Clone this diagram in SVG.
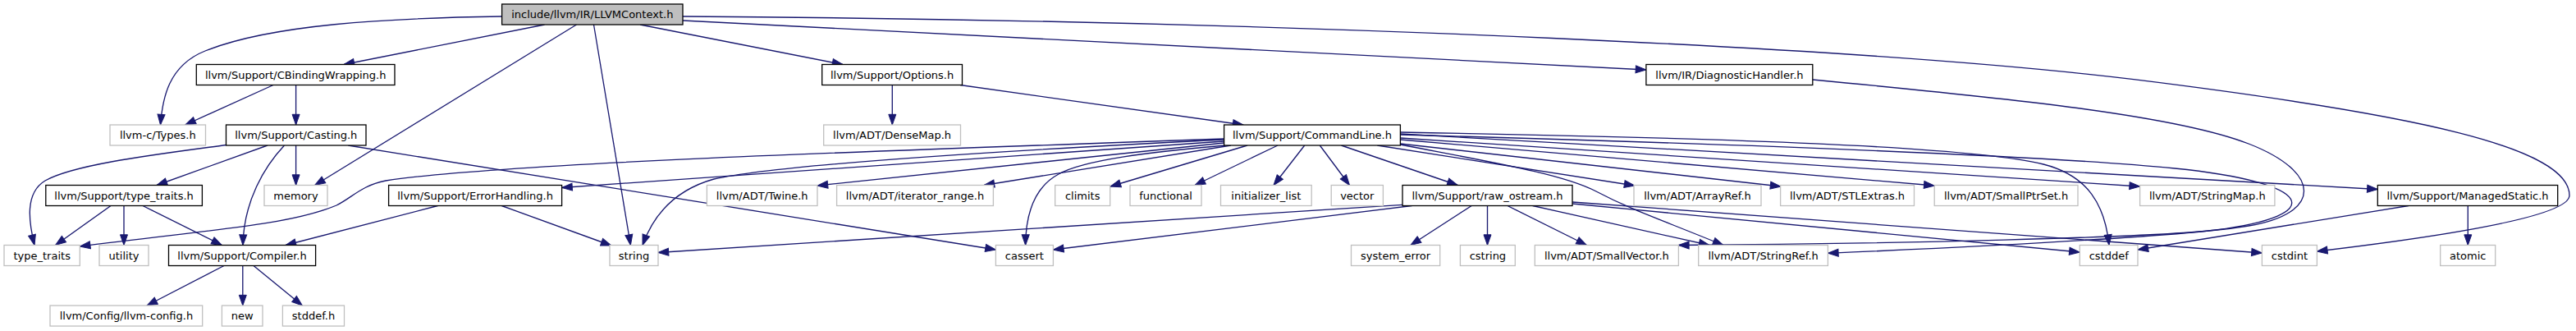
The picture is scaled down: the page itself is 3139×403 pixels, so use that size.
<svg xmlns="http://www.w3.org/2000/svg" width="3139" height="403" viewBox="0 0 3139 403">
<style>
rect{fill:#fff;stroke:#000;stroke-width:1.3}
.u rect{stroke:#bfbfbf}
.root rect{fill:#bfbfbf}
text{font-family:"DejaVu Sans","Liberation Sans",sans-serif;font-size:13px;text-anchor:middle;fill:#000}
#edges path{fill:none;stroke:#191970;stroke-width:1.33;marker-end:url(#a)}
</style>
<defs>
<marker id="a" markerUnits="userSpaceOnUse" markerWidth="14" markerHeight="10" refX="12.7" refY="4.5" orient="auto" overflow="visible">
<path d="M0,0 L12.7,4.5 L0,9 z" fill="#191970" stroke="#191970" stroke-width="1"/>
</marker>
</defs>
<rect x="0" y="0" width="3139" height="403" style="fill:#fff;stroke:none"/>
<g id="edges">
<path d="M611.6,20 C470,22 330,30 250,62 C205,80 198,120 195.5,152"/>
<path d="M663.6,30 L419,78.5"/>
<path d="M702.5,30 L383.6,225.5"/>
<path d="M723.5,30 L768.4,298.5"/>
<path d="M780,30 L1027,78.5"/>
<path d="M832,25 L2005.9,85"/>
<path d="M832,20 C1600,25 2300,60 2600,96.7 C2950,140 3131,180 3131,238 C3131,262 3000,285 2823.4,306"/>
<path d="M333,103.5 L225.8,152"/>
<path d="M360.6,103.5 L360.6,152"/>
<path d="M275.5,176.5 C190,188 90,200 55,220 C30,235 35,270 42,298.5"/>
<path d="M326,177 L191,225.5"/>
<path d="M346.5,177 C322,203 297,245 296,298.5"/>
<path d="M360.6,177 L360.6,225.5"/>
<path d="M424.2,177 L1213.4,304"/>
<path d="M135,250.5 L67.6,298.5"/>
<path d="M151,250.5 L151,298.5"/>
<path d="M174,250.5 L270.4,298.5"/>
<path d="M273,323.5 L179,372"/>
<path d="M295.8,323.5 L295.8,372"/>
<path d="M309,323.5 L368.4,372"/>
<path d="M533.5,250.5 L348,298.5"/>
<path d="M611.3,250.5 L745,299"/>
<path d="M1087.3,103.5 L1087.3,152"/>
<path d="M1170,103.5 L1515,152"/>
<path d="M1491.6,169 C1000,186 600,200 470,220 C440,226 430,240 410,250 C350,275 250,280 97.3,300"/>
<path d="M1491.6,172 L684.6,228.5"/>
<path d="M1491.6,174 L996,226"/>
<path d="M1500,177 L1199,225.5"/>
<path d="M1491.6,170 C1250,182 950,200 870,218 C820,232 795,265 783,298.5"/>
<path d="M1493,177 C1400,185 1320,195 1290,212 C1260,228 1250,260 1249.6,298.5"/>
<path d="M1520,177 L1353,227"/>
<path d="M1557,177 L1456,225.5"/>
<path d="M1589.7,177 L1552,225.5"/>
<path d="M1608.3,177 L1644.5,225.5"/>
<path d="M1634.4,177 L1776.3,225.5"/>
<path d="M1678.3,177 L1992,226"/>
<path d="M1706.4,175 L2170,227"/>
<path d="M1706.4,170 L2357.2,226"/>
<path d="M1706.4,168 L2607.6,227"/>
<path d="M1706.4,163 L2897.3,230.5"/>
<path d="M1706.4,161 C2100,168 2400,178 2490,200 C2545,214 2565,250 2570,298.5"/>
<path d="M1706.4,164 C2100,175 2500,190 2650,205 C2820,222 2840,262 2700,280 C2630,289 2300,297 2045.4,298.5"/>
<path d="M1706.4,176 C1820,198 1905,212 1945,233 C1985,254 2010,262 2100,298.5"/>
<path d="M1709,249.3 L802,307.5"/>
<path d="M1720.5,250.5 L1283.4,304"/>
<path d="M1793.2,250.5 L1718.9,298.5"/>
<path d="M1812.5,250.5 L1812.5,298.5"/>
<path d="M1837,250.5 L1933.5,298.5"/>
<path d="M1867.6,250.5 L2083,298.5"/>
<path d="M1916,248 L2534.3,307"/>
<path d="M1916,246 L2756.4,308"/>
<path d="M2208.8,97 C2450,120 2650,140 2740,175 C2830,210 2830,260 2740,275 C2650,290 2350,303 2227.4,308.3"/>
<path d="M2935,250.5 L2605,304"/>
<path d="M3007.3,250.5 L3007.3,298.5"/>
</g>
<g id="n_LLVMContext" class="root"><rect x="611.6" y="5" width="220.4" height="25"/><text x="721.8" y="22">include/llvm/IR/LLVMContext.h</text></g>
<g id="n_CBindingWrapping"><rect x="239.3" y="78.5" width="241.7" height="25"/><text x="360.2" y="95.5">llvm/Support/CBindingWrapping.h</text></g>
<g id="n_Options"><rect x="1001.7" y="78.5" width="170.8" height="25"/><text x="1087.1" y="95.5">llvm/Support/Options.h</text></g>
<g id="n_DiagnosticHandler"><rect x="2005.9" y="78.5" width="202.9" height="25"/><text x="2107.4" y="95.5">llvm/IR/DiagnosticHandler.h</text></g>
<g id="n_Types" class="u"><rect x="134" y="152" width="116.5" height="25"/><text x="192.3" y="169">llvm-c/Types.h</text></g>
<g id="n_Casting"><rect x="275.5" y="152" width="170.5" height="25"/><text x="360.8" y="169">llvm/Support/Casting.h</text></g>
<g id="n_DenseMap" class="u"><rect x="1003.7" y="152" width="166.8" height="25"/><text x="1087.1" y="169">llvm/ADT/DenseMap.h</text></g>
<g id="n_CommandLine"><rect x="1491.6" y="152" width="214.8" height="25"/><text x="1599" y="169">llvm/Support/CommandLine.h</text></g>
<g id="n_SupportTypeTraits"><rect x="55.8" y="225.5" width="190.6" height="25"/><text x="151.1" y="242.5">llvm/Support/type_traits.h</text></g>
<g id="n_memory" class="u"><rect x="322" y="225.5" width="77" height="25"/><text x="360.5" y="242.5">memory</text></g>
<g id="n_ErrorHandling"><rect x="473.6" y="225.5" width="211" height="25"/><text x="579.1" y="242.5">llvm/Support/ErrorHandling.h</text></g>
<g id="n_Twine" class="u"><rect x="861.4" y="225.5" width="134.6" height="25"/><text x="928.7" y="242.5">llvm/ADT/Twine.h</text></g>
<g id="n_iterator_range" class="u"><rect x="1019.6" y="225.5" width="190.8" height="25"/><text x="1115" y="242.5">llvm/ADT/iterator_range.h</text></g>
<g id="n_climits" class="u"><rect x="1285.7" y="225.5" width="67" height="25"/><text x="1319.2" y="242.5">climits</text></g>
<g id="n_functional" class="u"><rect x="1377" y="225.5" width="87" height="25"/><text x="1420.5" y="242.5">functional</text></g>
<g id="n_initializer_list" class="u"><rect x="1487.5" y="225.5" width="110.7" height="25"/><text x="1542.9" y="242.5">initializer_list</text></g>
<g id="n_vector" class="u"><rect x="1622.2" y="225.5" width="63.2" height="25"/><text x="1653.8" y="242.5">vector</text></g>
<g id="n_raw_ostream"><rect x="1709" y="225.5" width="207" height="25"/><text x="1812.5" y="242.5">llvm/Support/raw_ostream.h</text></g>
<g id="n_ArrayRef" class="u"><rect x="1991" y="225.5" width="155" height="25"/><text x="2068.5" y="242.5">llvm/ADT/ArrayRef.h</text></g>
<g id="n_STLExtras" class="u"><rect x="2169.6" y="225.5" width="162.9" height="25"/><text x="2251" y="242.5">llvm/ADT/STLExtras.h</text></g>
<g id="n_SmallPtrSet" class="u"><rect x="2357.2" y="225.5" width="174.8" height="25"/><text x="2444.6" y="242.5">llvm/ADT/SmallPtrSet.h</text></g>
<g id="n_StringMap" class="u"><rect x="2607.6" y="225.5" width="164.3" height="25"/><text x="2689.8" y="242.5">llvm/ADT/StringMap.h</text></g>
<g id="n_ManagedStatic"><rect x="2897.3" y="225.5" width="219.4" height="25"/><text x="3007" y="242.5">llvm/Support/ManagedStatic.h</text></g>
<g id="n_type_traits" class="u"><rect x="5" y="298.5" width="92.3" height="25"/><text x="51.2" y="315.5">type_traits</text></g>
<g id="n_utility" class="u"><rect x="121" y="298.5" width="60" height="25"/><text x="151" y="315.5">utility</text></g>
<g id="n_Compiler"><rect x="205.5" y="298.5" width="179.1" height="25"/><text x="295" y="315.5">llvm/Support/Compiler.h</text></g>
<g id="n_string" class="u"><rect x="743" y="298.5" width="59" height="25"/><text x="772.5" y="315.5">string</text></g>
<g id="n_cassert" class="u"><rect x="1213.4" y="298.5" width="70" height="25"/><text x="1248.4" y="315.5">cassert</text></g>
<g id="n_system_error" class="u"><rect x="1646.5" y="298.5" width="108.2" height="25"/><text x="1700.6" y="315.5">system_error</text></g>
<g id="n_cstring" class="u"><rect x="1779.4" y="298.5" width="66.9" height="25"/><text x="1812.9" y="315.5">cstring</text></g>
<g id="n_SmallVector" class="u"><rect x="1870.3" y="298.5" width="175.1" height="25"/><text x="1957.9" y="315.5">llvm/ADT/SmallVector.h</text></g>
<g id="n_StringRef" class="u"><rect x="2069.7" y="298.5" width="157.7" height="25"/><text x="2148.6" y="315.5">llvm/ADT/StringRef.h</text></g>
<g id="n_cstddef" class="u"><rect x="2534.3" y="298.5" width="70.7" height="25"/><text x="2569.7" y="315.5">cstddef</text></g>
<g id="n_cstdint" class="u"><rect x="2756.4" y="298.5" width="67" height="25"/><text x="2789.9" y="315.5">cstdint</text></g>
<g id="n_atomic" class="u"><rect x="2973.7" y="298.5" width="67" height="25"/><text x="3007.2" y="315.5">atomic</text></g>
<g id="n_llvm_config" class="u"><rect x="61" y="372" width="185.7" height="25"/><text x="153.9" y="389">llvm/Config/llvm-config.h</text></g>
<g id="n_new" class="u"><rect x="270.4" y="372" width="49.6" height="25"/><text x="295.2" y="389">new</text></g>
<g id="n_stddef" class="u"><rect x="344.4" y="372" width="75.1" height="25"/><text x="382" y="389">stddef.h</text></g>
</svg>
